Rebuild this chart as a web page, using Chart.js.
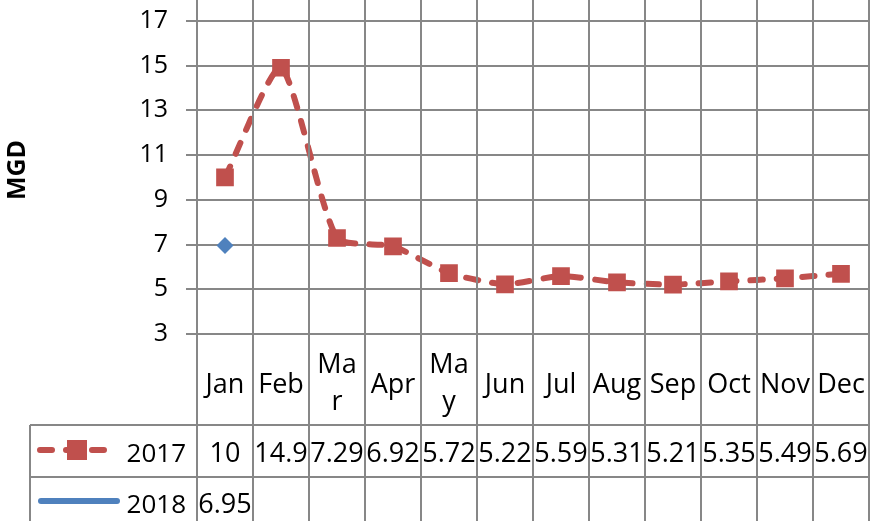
<!DOCTYPE html>
<html>
<head>
<meta charset="utf-8">
<script src="https://cdn.jsdelivr.net/npm/chart.js@4"></script>
<style>
  body { margin: 0; background: #fff; }
  #wrap { position: relative; width: 874px; height: 521px; overflow: hidden; }
  #holder { position: absolute; left: 0; top: -40px; }
</style>
</head>
<body>
<div id="wrap"><div id="holder"><canvas id="myChart" width="874" height="600"></canvas></div></div>
<script>
const months = ["Jan", "Feb", "Mar", "Apr", "May", "Jun", "Jul", "Aug", "Sep", "Oct", "Nov", "Dec"];
// labels as they wrap in the table header
const tickLabels = ["Jan", "Feb", ["Ma", "r"], "Apr", ["Ma", "y"], "Jun", "Jul", "Aug", "Sep", "Oct", "Nov", "Dec"];
const values2017 = [10, 14.9, 7.29, 6.92, 5.72, 5.22, 5.59, 5.31, 5.21, 5.35, 5.49, 5.69];
const values2018 = [6.95, null, null, null, null, null, null, null, null, null, null, null];
const yTicks = [3, 5, 7, 9, 11, 13, 15, 17, 19];

const red = "#C0504D";
const blue = "#4F81BD";
const gridColor = "#878787";
const font = "'Open Sans', sans-serif";
const offsetY = 40; // canvas is shifted up, top of plot is cropped

// data table under the plot, lines follow the x scale columns
const tablePlugin = {
  id: "dataTable",
  afterDraw(chart) {
    const ctx = chart.ctx;
    const area = chart.chartArea;
    const x = chart.scales.x;
    const step = x.getPixelForValue(1) - x.getPixelForValue(0);
    const tableLeft = 30;
    const row1 = 425 + offsetY;
    const row2 = 477 + offsetY;
    const row3 = 529 + offsetY;

    ctx.save();
    ctx.strokeStyle = gridColor;
    ctx.lineWidth = 2;
    // column lines
    for (let i = 0; i <= months.length; i++) {
      const px = Math.round(x.getPixelForValue(0) - step / 2 + i * step);
      ctx.beginPath();
      ctx.moveTo(px, area.top);
      ctx.lineTo(px, chart.height);
      ctx.stroke();
    }
    // row lines
    [row1, row2, row3].forEach(ry => {
      ctx.beginPath();
      ctx.moveTo(tableLeft, ry);
      ctx.lineTo(area.right, ry);
      ctx.stroke();
    });
    ctx.beginPath();
    ctx.moveTo(tableLeft, row1);
    ctx.lineTo(tableLeft, chart.height);
    ctx.stroke();

    // header labels
    ctx.fillStyle = "#000";
    ctx.textAlign = "center";
    ctx.textBaseline = "alphabetic";
    ctx.font = `27px ${font}`;
    tickLabels.forEach((lab, i) => {
      const cx = x.getPixelForValue(i);
      if (Array.isArray(lab)) {
        ctx.fillText(lab[0], cx, 373 + offsetY);
        ctx.fillText(lab[1], cx, 410 + offsetY);
      } else {
        ctx.fillText(lab, cx, 393 + offsetY);
      }
    });

    // values
    ctx.font = `27px ${font}`;
    values2017.forEach((v, i) => {
      if (v !== null) ctx.fillText(String(v), x.getPixelForValue(i), 462 + offsetY);
    });
    values2018.forEach((v, i) => {
      if (v !== null) ctx.fillText(String(v), x.getPixelForValue(i), 513 + offsetY);
    });

    // legend keys
    ctx.font = `26px ${font}`;
    ctx.textAlign = "right";
    ctx.fillText("2017", 186, 462 + offsetY);
    ctx.fillText("2018", 186, 513 + offsetY);

    ctx.lineCap = "round";
    ctx.lineWidth = 6;
    ctx.strokeStyle = red;
    ctx.setLineDash([12, 14]);
    ctx.beginPath();
    ctx.moveTo(40, 450 + offsetY);
    ctx.lineTo(112, 450 + offsetY);
    ctx.stroke();
    ctx.setLineDash([]);
    ctx.fillStyle = red;
    ctx.fillRect(67, 440 + offsetY, 20, 20);

    ctx.strokeStyle = blue;
    ctx.beginPath();
    ctx.moveTo(41, 501 + offsetY);
    ctx.lineTo(117, 501 + offsetY);
    ctx.stroke();

    // axis title
    ctx.translate(18, 170 + offsetY);
    ctx.rotate(-Math.PI / 2);
    ctx.fillStyle = "#000";
    ctx.textAlign = "center";
    ctx.textBaseline = "middle";
    ctx.font = `bold 25px ${font}`;
    ctx.fillText("MGD", 0, 0);
    ctx.restore();
  },
};

const ctx = document.getElementById("myChart").getContext("2d");
const myChart = new Chart(ctx, {
  type: "line",
  data: {
    labels: months,
    datasets: [
      {
        label: "2017",
        data: values2017,
        borderColor: red,
        backgroundColor: red,
        borderWidth: 6,
        borderDash: [12, 14],
        borderCapStyle: "round",
        tension: 0.2,
        pointStyle: "rect",
        pointRadius: 12.5,
        pointBorderWidth: 0,
        pointBackgroundColor: red,
      },
      {
        label: "2018",
        data: values2018,
        borderColor: blue,
        backgroundColor: blue,
        borderWidth: 6,
        pointStyle: "rectRot",
        pointRadius: 8.5,
        pointBorderWidth: 0,
        pointBackgroundColor: blue,
      },
    ],
  },
  options: {
    responsive: false,
    animation: false,
    layout: { autoPadding: false, padding: { top: 16, right: 5, left: 0, bottom: 0 } },
    plugins: {
      legend: { display: false },
      title: { display: false },
      tooltip: { enabled: false },
    },
    scales: {
      x: {
        offset: true,
        grid: { display: false },
        border: { display: false },
        ticks: { display: false },
        afterFit: scale => {
          scale.height = 226;
          scale.paddingLeft = 0;
          scale.paddingRight = 0;
          scale.paddingTop = 0;
          scale.paddingBottom = 0;
        },
      },
      y: {
        min: 3,
        max: 19,
        afterBuildTicks: scale => {
          scale.ticks = yTicks.map(v => ({ value: v }));
        },
        grid: { color: gridColor, lineWidth: 2, tickLength: 11 },
        border: { display: false },
        ticks: {
          color: "#000",
          padding: 18,
          font: { family: font, size: 25 },
        },
        afterFit: scale => {
          scale.width = 197;
          scale.paddingLeft = 0;
          scale.paddingRight = 0;
          scale.paddingTop = 0;
          scale.paddingBottom = 0;
        },
      },
    },
  },
  plugins: [tablePlugin],
});
</script>
</body>
</html>
